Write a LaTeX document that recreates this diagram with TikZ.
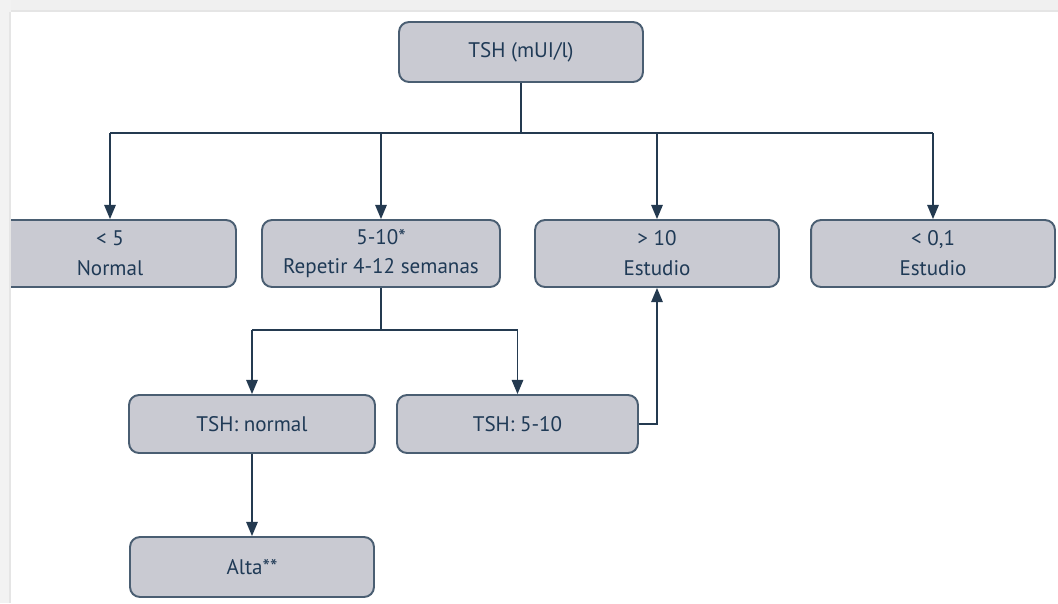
\documentclass[tikz,border=0pt]{standalone}
\usepackage{fontspec}
\setmainfont{PT Sans}
\usepackage{tikz}
\usetikzlibrary{arrows.meta,positioning,calc}
\definecolor{boxfill}{RGB}{201,202,210}
\definecolor{boxedge}{RGB}{74,94,114}
\definecolor{inkblue}{RGB}{31,58,86}
\definecolor{wireblue}{RGB}{36,58,80}

\begin{document}
\begin{tikzpicture}[x=0.02cm, y=-0.02cm, font=\fontsize{12}{17}\selectfont,
  box/.style={draw=boxedge, line width=1.1pt, fill=boxfill, text=inkblue, rounded corners=0.2cm, align=center, minimum width=4.88cm, minimum height=1.34cm, inner sep=2pt},
  wire/.style={draw=wireblue, line width=0.85pt},
  arr/.style={wire, -{Triangle[length=8pt,width=6.5pt]}}]
\useasboundingbox (0,0) rectangle (1058,603);
\fill[white] (0,0) rectangle (1058,603);
% top
\node[box, minimum height=1.2cm] (tsh) at (521,52) {TSH (mUI/l)};
% first level
\node[box, minimum width=5.04cm] (lt5) at (110,253.5) {< 5\\Normal};
\node[box, minimum width=4.76cm] (r510) at (381,253.5) {5-10*\\Repetir 4-12 semanas};
\node[box] (gt10) at (657,253.5) {> 10\\Estudio};
\node[box] (lt01) at (933,253.5) {< 0,1\\Estudio};
% second level
\node[box, minimum width=4.92cm, minimum height=1.16cm] (tshn) at (252,424) {TSH: normal};
\node[box, minimum width=4.82cm, minimum height=1.16cm] (tsh510) at (517.5,424) {TSH: 5-10};
\node[box, minimum height=1.2cm] (alta) at (252,567) {Alta**};
% connectors
\coordinate (bus) at (0,133);
\coordinate (bus2) at (0,330);
\draw[wire] (tsh.south) -- (tsh.south |- bus);
\draw[wire] (lt5.north |- bus) -- (lt01.north |- bus);
\foreach \n in {lt5,r510,gt10,lt01}
  \draw[arr] (\n.north |- bus) -- (\n.north);
\draw[wire] (r510.south) -- (r510.south |- bus2);
\draw[wire] (tshn.north |- bus2) -- (tsh510.north |- bus2);
\draw[arr] (tshn.north |- bus2) -- (tshn.north);
\draw[arr] (tsh510.north |- bus2) -- (tsh510.north);
\draw[arr] (tsh510.east) -| (gt10.south);
\draw[arr] (tshn.south) -- (tshn.south |- alta.north);
% page frame
\fill[black!6] (0,0) rectangle (1058,12);
\fill[black!5] (0,0) rectangle (11,603);
\fill[black!10] (11,10) rectangle (1058,12);
\fill[black!10] (9,12) rectangle (11,603);
\end{tikzpicture}
\end{document}
